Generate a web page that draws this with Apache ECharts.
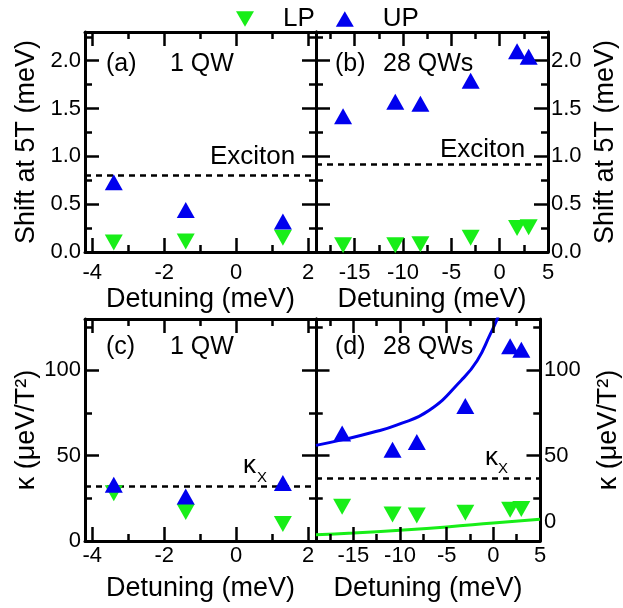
<!DOCTYPE html>
<html>
<head>
<meta charset="utf-8">
<script src="https://cdn.jsdelivr.net/npm/echarts@6/dist/echarts.min.js"></script>
<style>html,body{margin:0;padding:0;background:#fff;}#c{width:623px;height:608px;}</style>
</head>
<body>
<div id="c"></div>
<script>
// ---------- data ----------
const detuning1QW = [-3.4, -1.4, 1.3];
const shift1QW_LP = [0.10, 0.11, 0.15];
const shift1QW_UP = [0.73, 0.44, 0.32];
const detuning28QW = [-16.2, -10.8, -8.2, -3.0, 1.8, 3.0];
const shift28QW_LP = [0.07, 0.07, 0.08, 0.15, 0.25, 0.26];
const shift28QW_UP = [1.42, 1.57, 1.55, 1.79, 2.10, 2.04];
const kappa1QW_LP = [28, 17, 10];
const kappa1QW_UP = [33, 26, 34];
const kappa28QW_LP = [20, 15.5, 15, 16.5, 18.3, 18.7];
const kappa28QW_UP = [63, 53.5, 58, 79, 114, 112];
const excitonShift = [0.80, 0.92];   // panels a, b
const kappaX = [32, 37];             // panels c, d
const fitUP_x = [-19, -16, -13, -10.3, -6.9, -3.45, -1.72, -0.34, 0.34, 0.6];
const fitUP_y = [56, 59.5, 63.5, 68, 76.4, 94, 105.7, 121, 129, 133];
const fitLP_x = [-19, -15, -10, -5, 0, 5];
const fitLP_y = [3.7, 4.7, 6.3, 8.2, 10.5, 12.7];
const xTicks1QW = {major: [-4, -2, 0, 2], minor: [-3, -1, 1]};
const xTicks28QW = {major: [-15, -10, -5, 0, 5], minor: [-17.5, -12.5, -7.5, -2.5, 2.5]};
const yTicksShift = {major: [0, 0.5, 1, 1.5, 2], minor: [0.25, 0.75, 1.25, 1.75, 2.25]};
const yTicksKappa = {major: [0, 50, 100], minor: [25, 75, 125]};

// ---------- style ----------
const FONT = 'Liberation Sans, Arial, sans-serif';
const GREEN = '#18ee18';
const BLUE = '#0000ee';
const DOWN = 'path://M0,0L20,0L10,17Z';
const UPS = 'path://M10,0L20,17L0,17Z';
const MAJOR_LEN = 14, MINOR_LEN = 7, TICK_W = 2.5;

const grids = [
  {left: 85, top: 32, width: 231, height: 220},
  {left: 316, top: 32, width: 232, height: 220},
  {left: 85, top: 319, width: 231, height: 222},
  {left: 316, top: 319, width: 232, height: 222}
];

const panels = [
  {x: [-4.2, 2.22], xt: xTicks1QW, y: [0, 2.3], yt: yTicksShift, side: 'left', yName: 'Shift at 5T (meV)',
   fy: v => v.toFixed(1), xMargin: 10, yMargin: 4, nameGapY: 45},
  {x: [-19, 5], xt: xTicks28QW, y: [0, 2.3], yt: yTicksShift, side: 'right', yName: 'Shift at 5T (meV)',
   fy: v => v.toFixed(1), xMargin: 10, yMargin: 3, nameGapY: 44},
  {x: [-4.2, 2.22], xt: xTicks1QW, y: [0, 130], yt: yTicksKappa, side: 'left', yName: 'κ (μeV/T²)',
   fy: v => String(v), xMargin: 4, yMargin: 4, nameGapY: 35},
  {x: [-19, 5], xt: xTicks28QW, y: [0, 130], yt: yTicksKappa, side: 'right', yName: 'κ (μeV/T²)',
   fy: v => (v === 0 ? '{r|0}' : String(v)), xMargin: 4, yMargin: 4, nameGapY: 55}
];

function frameAxis(gi, pos, min, max) {
  return {
    type: 'value', gridIndex: gi, position: pos, min: min, max: max,
    splitLine: {show: false},
    axisLine: {show: true, onZero: false, lineStyle: {color: '#000', width: 3}},
    axisTick: {show: false},
    axisLabel: {show: false}
  };
}

const xAxes = [], yAxes = [];
panels.forEach((p, gi) => {
  const xb = frameAxis(gi, 'bottom', p.x[0], p.x[1]);
  xb.axisLabel = {show: true, customValues: p.xt.major, margin: p.xMargin, fontSize: 22, fontFamily: FONT, color: '#000'};
  xb.name = 'Detuning (meV)';
  xb.nameLocation = 'middle';
  xb.nameGap = 34;
  xb.nameTextStyle = {fontSize: 27, fontFamily: FONT, color: '#000'};
  xAxes.push(xb);
  xAxes.push(frameAxis(gi, 'top', p.x[0], p.x[1]));
  const other = p.side === 'left' ? 'right' : 'left';
  const yl = frameAxis(gi, p.side, p.y[0], p.y[1]);
  yl.axisLabel = {show: true, customValues: p.yt.major, margin: p.yMargin, fontSize: 22, fontFamily: FONT, color: '#000',
    formatter: p.fy, rich: {r: {fontSize: 22, fontFamily: FONT, color: '#000', padding: [0, 0, 38, 0]}}};
  yl.name = p.yName;
  yl.nameLocation = 'middle';
  yl.nameGap = p.nameGapY;
  yl.nameTextStyle = {fontSize: 27, fontFamily: FONT, color: '#000'};
  yAxes.push(yl);
  yAxes.push(frameAxis(gi, other, p.y[0], p.y[1]));
});

function pts(xs, ys) { return xs.map((x, i) => [x, ys[i]]); }

function scatter(gi, name, data, sym, color) {
  return {
    type: 'scatter', name: name, xAxisIndex: gi * 2, yAxisIndex: gi * 2,
    data: data, symbol: sym, symbolSize: [18, 16],
    itemStyle: {color: color, opacity: 1}, z: 5, silent: true
  };
}
function dashed(gi, value) {
  return {
    type: 'line', name: 'ref' + gi, xAxisIndex: gi * 2, yAxisIndex: gi * 2, data: [],
    markLine: {silent: true, symbol: 'none', label: {show: false},
      lineStyle: {color: '#000', width: 2.5, type: [6, 5]}, data: [{yAxis: value}]}
  };
}
// inward tick marks on all four sides, drawn as short marker-line segments through the axes' scales
function tickMarks(gi, p) {
  const g = grids[gi];
  const dyPx = (p.y[1] - p.y[0]) / g.height;
  const dxPx = (p.x[1] - p.x[0]) / g.width;
  const segs = [];
  const xt = (v, len) => {
    segs.push([{coord: [v, p.y[0]]}, {coord: [v, p.y[0] + len * dyPx]}]);
    segs.push([{coord: [v, p.y[1]]}, {coord: [v, p.y[1] - len * dyPx]}]);
  };
  const yt = (v, len) => {
    segs.push([{coord: [p.x[0], v]}, {coord: [p.x[0] + len * dxPx, v]}]);
    segs.push([{coord: [p.x[1], v]}, {coord: [p.x[1] - len * dxPx, v]}]);
  };
  p.xt.major.forEach(v => xt(v, MAJOR_LEN));
  p.xt.minor.forEach(v => xt(v, MINOR_LEN));
  p.yt.major.forEach(v => yt(v, MAJOR_LEN));
  p.yt.minor.forEach(v => yt(v, MINOR_LEN));
  return {
    type: 'line', name: 'tick' + gi, xAxisIndex: gi * 2, yAxisIndex: gi * 2, data: [],
    markLine: {silent: true, symbol: 'none', label: {show: false},
      lineStyle: {color: '#000', width: TICK_W, type: 'solid'}, data: segs}
  };
}

const series = [
  scatter(0, 'LP', pts(detuning1QW, shift1QW_LP), DOWN, GREEN),
  scatter(0, 'UP', pts(detuning1QW, shift1QW_UP), UPS, BLUE),
  dashed(0, excitonShift[0]),
  scatter(1, 'LP', pts(detuning28QW, shift28QW_LP), DOWN, GREEN),
  scatter(1, 'UP', pts(detuning28QW, shift28QW_UP), UPS, BLUE),
  dashed(1, excitonShift[1]),
  scatter(2, 'LP', pts(detuning1QW, kappa1QW_LP), DOWN, GREEN),
  scatter(2, 'UP', pts(detuning1QW, kappa1QW_UP), UPS, BLUE),
  dashed(2, kappaX[0]),
  scatter(3, 'LP', pts(detuning28QW, kappa28QW_LP), DOWN, GREEN),
  scatter(3, 'UP', pts(detuning28QW, kappa28QW_UP), UPS, BLUE),
  dashed(3, kappaX[1]),
  {type: 'line', name: 'UP fit', xAxisIndex: 6, yAxisIndex: 6, data: pts(fitUP_x, fitUP_y), smooth: true,
   symbol: 'none', clip: true, lineStyle: {color: BLUE, width: 3}, z: 3, silent: true},
  {type: 'line', name: 'LP fit', xAxisIndex: 6, yAxisIndex: 6, data: pts(fitLP_x, fitLP_y), smooth: true,
   symbol: 'none', clip: true, lineStyle: {color: GREEN, width: 3}, z: 3, silent: true}
];
panels.forEach((p, gi) => series.push(tickMarks(gi, p)));

function txt(text, x, y, size) {
  return {type: 'text', silent: true, z: 10,
    style: {text: text, x: x, y: y, fontSize: size, fontFamily: FONT, fill: '#000', verticalAlign: 'middle', align: 'left'}};
}

const graphic = [
  txt('(a)', 106, 64, 25), txt('1 QW', 170, 64, 25),
  txt('(b)', 335, 64, 25), txt('28 QWs', 383, 64, 25),
  txt('(c)', 106, 347, 25), txt('1 QW', 170, 347, 25),
  txt('(d)', 335, 347, 25), txt('28 QWs', 383, 347, 25),
  txt('Exciton', 210, 157, 26), txt('Exciton', 440, 150, 26),
  txt('κ', 243, 466, 26), txt('X', 257, 478, 15),
  txt('κ', 485, 458, 26), txt('X', 498, 469, 15)
];

const chart = echarts.init(document.getElementById('c'), null, {renderer: 'canvas'});
chart.setOption({
  backgroundColor: '#fff',
  animation: false,
  textStyle: {fontFamily: FONT},
  legend: {
    left: 236, top: 6, padding: 0, itemWidth: 18, itemHeight: 16, itemGap: 21, selectedMode: false,
    data: [{name: 'LP', icon: DOWN}, {name: 'UP', icon: UPS}],
    formatter: n => '{g|}' + n,
    textStyle: {fontSize: 26, fontFamily: FONT, color: '#000', rich: {g: {width: 24}}}
  },
  grid: grids,
  xAxis: xAxes,
  yAxis: yAxes,
  series: series,
  graphic: graphic
});
</script>
</body>
</html>
